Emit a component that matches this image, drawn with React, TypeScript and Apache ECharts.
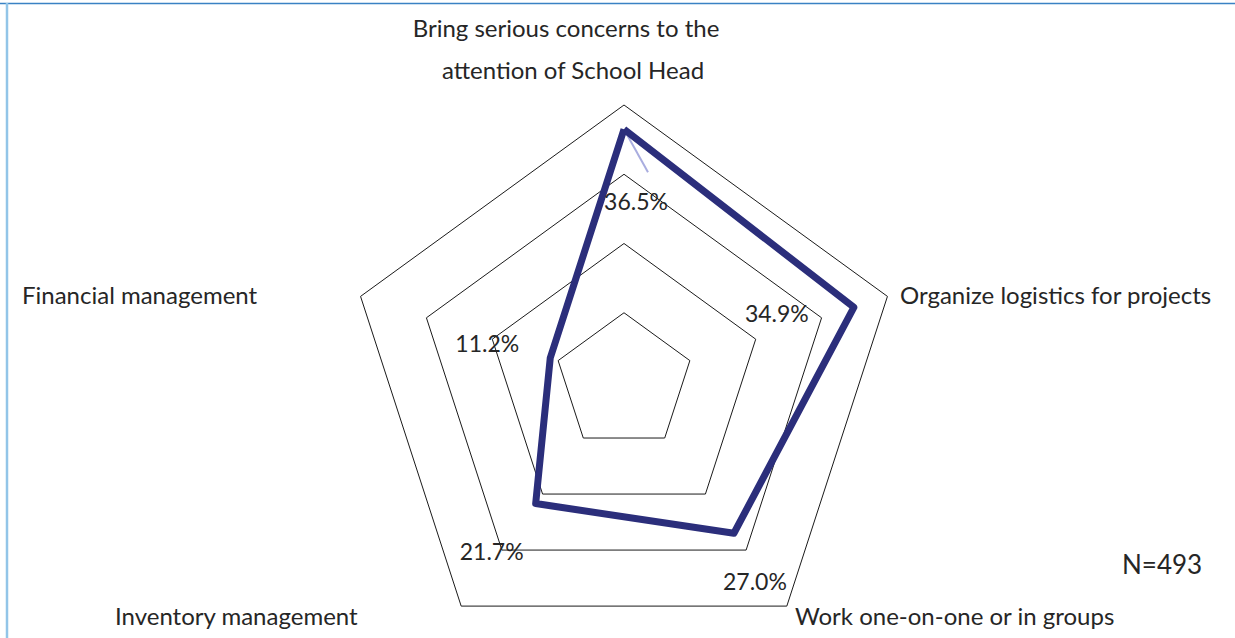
import React, { useEffect, useRef } from "react";
import * as echarts from "echarts";

// Categories in clockwise order starting at the top
const categories = [
  "Bring serious concerns to the attention of School Head",
  "Organize logistics for projects",
  "Work one-on-one or in groups",
  "Inventory management",
  "Financial management",
];
const values = [36.5, 34.9, 27.0, 21.7, 11.2];
const axisMax = 40;
const ringCount = 4;
const sampleNote = "N=493";

// label offsets from each point (pixels), clockwise order
const labelOffsets = [
  [12, 72],
  [-77, 6],
  [21, 48],
  [-44, 47],
  [-63, -15],
];

const CX = 624;
const CY = 382;
const R = 277;
const FONT = "Lato, 'Open Sans', sans-serif";
const TEXT = "#262626";
const NAME_FONT = `24px ${FONT}`;

export default function App() {
  const ref = useRef<HTMLDivElement>(null);
  useEffect(() => {
    if (!ref.current) return;
    const chart = echarts.init(ref.current, undefined, { renderer: "svg" });
    // ECharts places radar indicators counter-clockwise: reorder
    const order = [0, 4, 3, 2, 1];
    const indicator = order.map((i) => ({ name: categories[i], min: 0, max: axisMax }));
    const ordered = order.map((i) => values[i]);

    const labelItems = order.map((catIdx, pos) => ({
      value: ordered,
      symbol: "circle",
      symbolSize: 0.01,
      itemStyle: { color: "rgba(0,0,0,0)" },
      lineStyle: { opacity: 0, width: 0 },
      label: {
        show: true,
        position: "inside",
        offset: labelOffsets[catIdx],
        color: TEXT,
        fontFamily: FONT,
        fontSize: 23,
        formatter: (p: any) =>
          p.dimensionIndex === pos ? ordered[pos].toFixed(1) + "%" : "",
      },
    }));

    // top point for leader line
    const topR = (values[0] / axisMax) * R;
    const topX = CX;
    const topY = CY - topR;

    chart.setOption({
      animation: false,
      radar: {
        center: [CX, CY],
        radius: R,
        startAngle: 90,
        shape: "polygon",
        splitNumber: ringCount,
        indicator,
        axisName: { show: false },
        axisLine: { show: false },
        axisTick: { show: false },
        axisLabel: { show: false },
        splitArea: { show: false },
        splitLine: { lineStyle: { color: "#1a1a1a", width: 1 } },
      },
      series: [
        {
          type: "radar",
          data: [
            {
              value: ordered,
              symbol: "none",
              lineStyle: { color: "#2b2e7b", width: 7, join: "round" },
              label: { show: false },
            },
            ...labelItems,
          ],
          silent: true,
        },
      ],
      graphic: [
        { type: "line", shape: { x1: 0, y1: 3.5, x2: 1235, y2: 3.5 }, style: { stroke: "#3a82c4", lineWidth: 1.5 } },
        { type: "line", shape: { x1: 7, y1: 3, x2: 7, y2: 638 }, style: { stroke: "#92c5e8", lineWidth: 2.5 } },
        {
          type: "line",
          shape: { x1: topX, y1: topY, x2: topX + 24, y2: topY + 43 },
          style: { stroke: "#a9addf", lineWidth: 2 },
          z: 1,
        },
        { type: "text", x: 566, y: 27, style: { text: "Bring serious concerns to the", fill: TEXT, font: NAME_FONT, textAlign: "center", textVerticalAlign: "middle" } },
        { type: "text", x: 573, y: 69, style: { text: "attention of School Head", fill: TEXT, font: NAME_FONT, textAlign: "center", textVerticalAlign: "middle" } },
        { type: "text", x: 900, y: 294, style: { text: categories[1], fill: TEXT, font: NAME_FONT, textAlign: "left", textVerticalAlign: "middle" } },
        { type: "text", x: 795, y: 615, style: { text: categories[2], fill: TEXT, font: NAME_FONT, textAlign: "left", textVerticalAlign: "middle" } },
        { type: "text", x: 115, y: 615, style: { text: categories[3], fill: TEXT, font: NAME_FONT, textAlign: "left", textVerticalAlign: "middle" } },
        { type: "text", x: 22, y: 294, style: { text: categories[4], fill: TEXT, font: NAME_FONT, textAlign: "left", textVerticalAlign: "middle" } },
        { type: "text", x: 1122, y: 564, style: { text: sampleNote, fill: TEXT, font: `26px ${FONT}`, textAlign: "left", textVerticalAlign: "middle" } },
      ],
    });
    return () => chart.dispose();
  }, []);
  return (
    <div
      ref={ref}
      style={{ position: "fixed", left: 0, top: 0, width: 1235, height: 638, background: "#fff" }}
    />
  );
}
